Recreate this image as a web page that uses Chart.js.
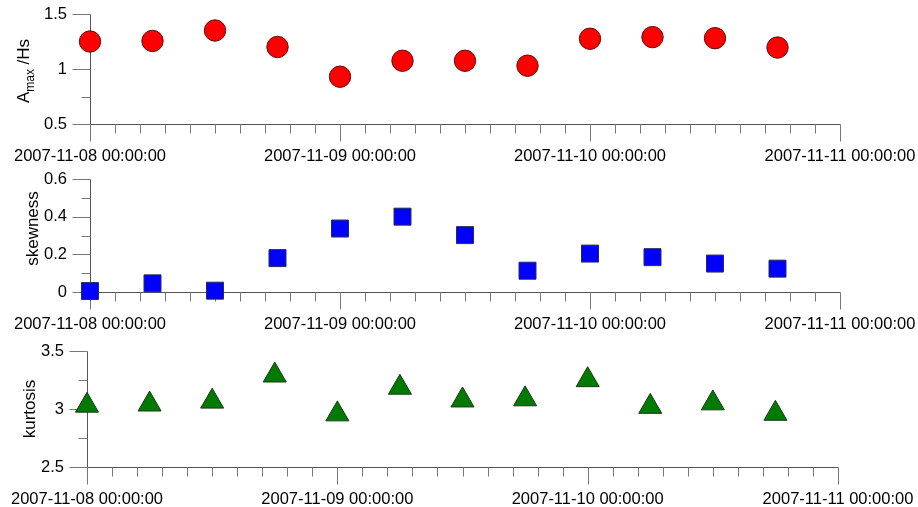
<!DOCTYPE html>
<html>
<head>
<meta charset="utf-8">
<script src="https://cdn.jsdelivr.net/npm/chart.js@4.4.1/dist/chart.umd.min.js"></script>
<style>
  html, body { margin: 0; padding: 0; background: #fff; }
  #wrap { position: relative; width: 918px; height: 507px; overflow: hidden; }
  .panel { position: absolute; left: 0; width: 918px; height: 169px; }
</style>
</head>
<body>
<div id="wrap">
  <div class="panel" style="top:0px"><canvas id="chart-amax" width="918" height="169"></canvas></div>
  <div class="panel" style="top:169px"><canvas id="chart-skew" width="918" height="169"></canvas></div>
  <div class="panel" style="top:338px"><canvas id="chart-kurt" width="918" height="169"></canvas></div>
</div>
<script>
// sample times (every 6 hours)
var times = ['2007-11-08 00:00', '2007-11-08 06:00', '2007-11-08 12:00', '2007-11-08 18:00',
  '2007-11-09 00:00', '2007-11-09 06:00', '2007-11-09 12:00', '2007-11-09 18:00',
  '2007-11-10 00:00', '2007-11-10 06:00', '2007-11-10 12:00', '2007-11-10 18:00'];
var amaxHs = [1.25, 1.255, 1.35, 1.20, 0.93, 1.075, 1.075, 1.03, 1.275, 1.29, 1.28, 1.195];
var skewness = [0.005, 0.046, 0.007, 0.18, 0.337, 0.40, 0.302, 0.113, 0.204, 0.185, 0.151, 0.124];
var kurtosis = [3.03, 3.04, 3.065, 3.29, 2.955, 3.185, 3.075, 3.085, 3.25, 3.02, 3.05, 2.96];
var xTickLabels = ['2007-11-08 00:00:00', '2007-11-09 00:00:00', '2007-11-10 00:00:00', '2007-11-11 00:00:00'];
var amaxTicks = [0.5, 1, 1.5];
var skewTicks = [0, 0.2, 0.4, 0.6];
var kurtTicks = [2.5, 3, 3.5];

var FONT = '"Liberation Sans", Arial, Helvetica, sans-serif';
var baseTime = Date.parse('2007-11-08T00:00:00Z');

function toHours(t) {
  return (Date.parse(t.replace(' ', 'T') + ':00Z') - baseTime) / 3600000;
}

function isMajor(v, majors) {
  for (var i = 0; i < majors.length; i++) {
    if (Math.abs(v - majors[i]) < 1e-6) return true;
  }
  return false;
}

// R style axes: plain lines, long major ticks, short minor ticks
var rAxes = {
  id: 'rAxes',
  beforeDatasetsDraw: function(chart, args, opts) {
    var ctx = chart.ctx;
    var xs = chart.scales.x, ys = chart.scales.y;
    var left = Math.round(xs.getPixelForValue(xs.min)) + 0.5;
    var right = Math.round(xs.getPixelForValue(xs.max)) + 0.5;
    var bottom = Math.round(ys.getPixelForValue(ys.min)) + 0.5;
    var top = Math.round(ys.getPixelForValue(ys.max)) + 0.5;
    ctx.save();
    ctx.lineWidth = 1;
    ctx.strokeStyle = '#555';
    ctx.beginPath();
    ctx.moveTo(left, top); ctx.lineTo(left, bottom);
    ctx.moveTo(left, bottom); ctx.lineTo(right, bottom);
    ctx.stroke();
    ctx.strokeStyle = '#777';
    ctx.beginPath();
    ys.ticks.forEach(function(t) {
      var py = Math.round(ys.getPixelForValue(t.value)) + 0.5;
      var len = isMajor(t.value, opts.yMajors) ? 18 : 9;
      ctx.moveTo(left - len, py); ctx.lineTo(left, py);
    });
    xs.ticks.forEach(function(t) {
      var px = Math.round(xs.getPixelForValue(t.value)) + 0.5;
      var len = (Math.abs(t.value / 24 - Math.round(t.value / 24)) < 1e-6) ? 17 : 9;
      ctx.moveTo(px, bottom); ctx.lineTo(px, bottom + len);
    });
    ctx.stroke();
    ctx.restore();
  }
};

// rotated y title, with optional subscript part
var yTitle = {
  id: 'yTitle',
  afterDraw: function(chart, args, opts) {
    var ctx = chart.ctx;
    var area = chart.chartArea;
    var cx = area.left - opts.offset;
    var cy = (area.top + area.bottom) / 2 + (opts.shift || 0);
    var parts = opts.parts;
    ctx.save();
    ctx.translate(cx, cy);
    ctx.rotate(-Math.PI / 2);
    ctx.fillStyle = '#000';
    ctx.textBaseline = 'alphabetic';
    ctx.textAlign = 'left';
    var total = 0;
    parts.forEach(function(p) {
      ctx.font = p.size + 'px ' + FONT;
      p.w = ctx.measureText(p.text).width;
      total += p.w;
    });
    var x = -total / 2;
    parts.forEach(function(p) {
      ctx.font = p.size + 'px ' + FONT;
      ctx.fillText(p.text, x, p.dy || 0);
      x += p.w;
    });
    ctx.restore();
  }
};

function makePanel(id, values, cfg) {
  var pts = values.map(function(v, i) { return { x: toHours(times[i]), y: v }; });
  var ctx = document.getElementById(id).getContext('2d');
  return new Chart(ctx, {
    type: 'scatter',
    data: {
      datasets: [{
        data: pts,
        pointStyle: cfg.style,
        pointRadius: cfg.radius,
        pointHoverRadius: cfg.radius,
        backgroundColor: cfg.color,
        borderColor: cfg.border,
        pointBorderWidth: 1,
        showLine: false,
        clip: false
      }]
    },
    plugins: [rAxes, yTitle],
    options: {
      responsive: false,
      animation: false,
      events: [],
      layout: {
        autoPadding: false,
        padding: { left: 0, right: 918 - cfg.right, top: cfg.top, bottom: 0 }
      },
      plugins: {
        legend: { display: false },
        tooltip: { enabled: false },
        rAxes: { yMajors: cfg.majors },
        yTitle: { parts: cfg.title, offset: cfg.titleOffset, shift: cfg.titleShift }
      },
      scales: {
        x: {
          type: 'linear',
          min: 0,
          max: 72,
          grid: { display: false, drawTicks: false },
          border: { display: false },
          afterFit: function(scale) {
            scale.height = 169 - cfg.bottom;
            scale.paddingLeft = 0;
            scale.paddingRight = 0;
          },
          ticks: {
            stepSize: 2.4,
            autoSkip: false,
            maxRotation: 0,
            padding: cfg.xPad,
            color: '#000',
            font: { family: FONT, size: 16.5 },
            callback: function(v) {
              var d = v / 24;
              if (Math.abs(d - Math.round(d)) < 1e-6) return xTickLabels[Math.round(d)];
              return '';
            }
          }
        },
        y: {
          min: cfg.min,
          max: cfg.max,
          grid: { display: false, drawTicks: false },
          border: { display: false },
          afterFit: function(scale) {
            scale.width = cfg.left;
            scale.paddingTop = 0;
            scale.paddingBottom = 0;
          },
          ticks: {
            stepSize: cfg.step,
            autoSkip: false,
            padding: 23,
            color: '#000',
            font: { family: FONT, size: 16.5 },
            callback: function(v) {
              return isMajor(v, cfg.majors) ? String(Number(v.toFixed(2))) : '';
            }
          }
        }
      }
    }
  });
}

makePanel('chart-amax', amaxHs, {
  style: 'circle', radius: 10.7, color: '#ff0000', border: '#5a1010',
  min: 0.5, max: 1.5, step: 0.25, majors: amaxTicks,
  left: 90, right: 840, top: 14, bottom: 124, xPad: 23,
  titleOffset: 61.5, titleShift: 2,
  title: [
    { text: 'A', size: 17 },
    { text: 'max', size: 12, dy: 5 },
    { text: ' /Hs', size: 17 }
  ]
});

makePanel('chart-skew', skewness, {
  style: 'rect', radius: 12, color: '#0000ff', border: '#2a2a5a',
  min: 0, max: 0.6, step: 0.1, majors: skewTicks,
  left: 90, right: 840, top: 10, bottom: 123, xPad: 23,
  titleOffset: 52, titleShift: -7,
  title: [{ text: 'skewness', size: 17 }]
});

makePanel('chart-kurt', kurtosis, {
  style: 'triangle', radius: 13.3, color: '#007a00', border: '#1a3a1a',
  min: 2.5, max: 3.5, step: 0.25, majors: kurtTicks,
  left: 87, right: 838, top: 13, bottom: 129, xPad: 23,
  titleOffset: 52, titleShift: 0,
  title: [{ text: 'kurtosis', size: 17 }]
});
</script>
</body>
</html>
